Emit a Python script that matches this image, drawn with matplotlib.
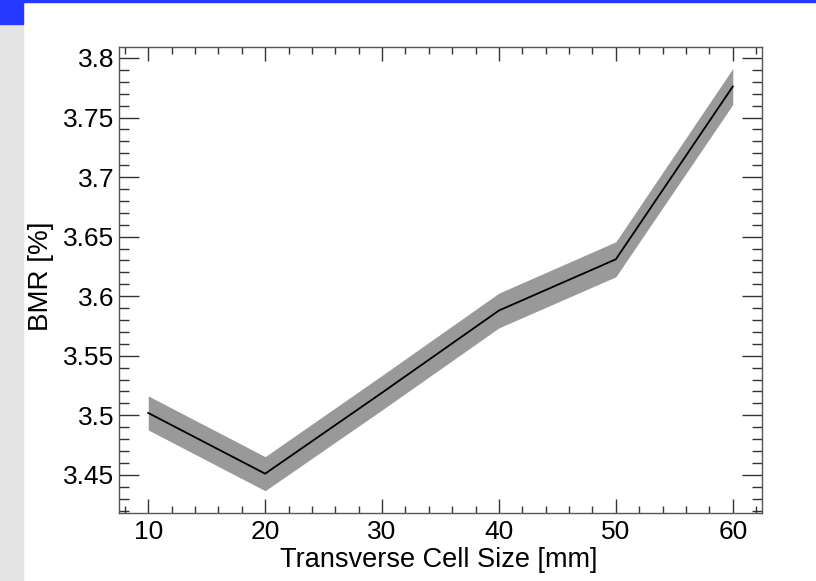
import numpy as np
import matplotlib.pyplot as plt
from matplotlib.ticker import MultipleLocator
from matplotlib.patches import Rectangle

# Valores
cell_size = [10, 20, 30, 40, 50, 60]
bmr = [3.502, 3.451, 3.519, 3.588, 3.631, 3.776]
bmr_err = [0.0143, 0.0143, 0.0145, 0.0146, 0.0147, 0.0151]

x_ticks = [10, 20, 30, 40, 50, 60]
y_ticks = [3.45, 3.5, 3.55, 3.6, 3.65, 3.7, 3.75, 3.8]
y_labels = ["3.45", "3.5", "3.55", "3.6", "3.65", "3.7", "3.75", "3.8"]

plt.rcParams['font.family'] = ['Liberation Sans', 'DejaVu Sans']

fig = plt.figure(figsize=(8.16, 5.81), dpi=100)

# moldura do slide (faixa azul e coluna cinza)
fig.patches.append(Rectangle((0, 0), 23 / 816, 1, transform=fig.transFigure,
                             color='#e4e4e4', zorder=0))
fig.patches.append(Rectangle((0, 1 - 24 / 581), 23 / 816, 24 / 581,
                             transform=fig.transFigure, color='#2438ff', zorder=1))
fig.patches.append(Rectangle((0, 1 - 2 / 581), 1, 2 / 581,
                             transform=fig.transFigure, color='#2438ff', zorder=1))

ax = fig.add_axes([119 / 816, 68 / 581, 643 / 816, 466 / 581])

lo = np.array(bmr) - np.array(bmr_err)
hi = np.array(bmr) + np.array(bmr_err)
ax.fill_between(cell_size, lo, hi, color='#999999', linewidth=0)
ax.plot(cell_size, bmr, color='black', linewidth=1.3)

ax.set_xlim(7.5, 62.5)
ax.set_ylim(3.418, 3.8092)

ax.set_xticks(x_ticks)
ax.set_yticks(y_ticks)
ax.set_yticklabels(y_labels)
ax.xaxis.set_minor_locator(MultipleLocator(2))
ax.yaxis.set_minor_locator(MultipleLocator(0.01))

for s in ax.spines.values():
    s.set_color('#555555')
    s.set_linewidth(1.0)

ax.tick_params(axis='both', which='both', direction='in', top=True, right=True,
               colors='#333333', labelcolor='black', width=1.0, labelsize=19)
ax.tick_params(axis='y', which='major', length=14.4, pad=3.5)
ax.tick_params(axis='y', which='minor', length=7.2)
ax.tick_params(axis='x', which='major', length=10, pad=5)
ax.tick_params(axis='x', which='minor', length=5)

fig.text(439 / 816, 1 - 560 / 581, "Transverse Cell Size [mm]", fontsize=19.5,
         ha='center', va='center')
fig.text(40.5 / 816, 1 - 276 / 581, "BMR [%]", fontsize=20, rotation=90,
         ha='center', va='center')

plt.savefig("out.png", dpi=100)
